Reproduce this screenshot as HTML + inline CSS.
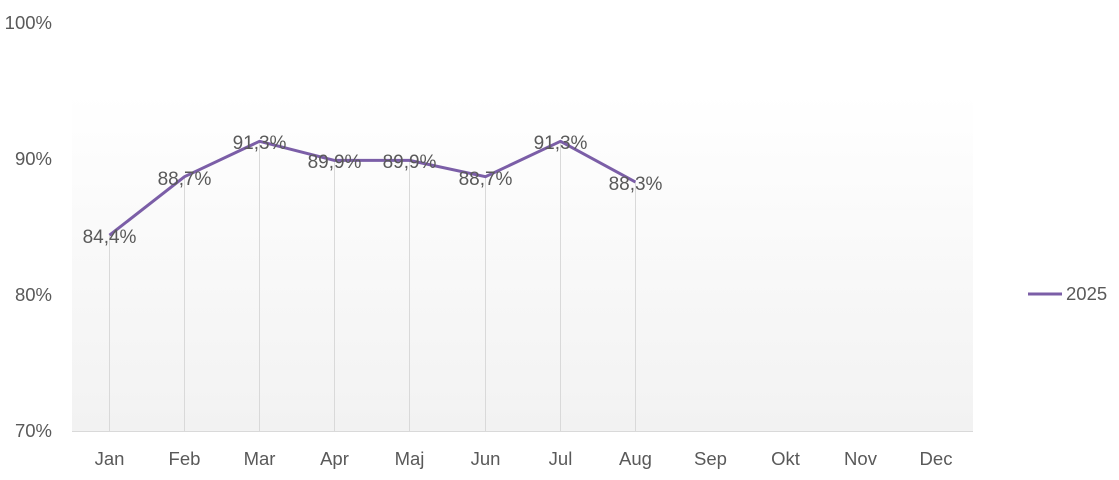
<!DOCTYPE html>
<html><head><meta charset="utf-8"><style>
html,body{margin:0;padding:0;background:#fff;}
svg{display:block;font-family:"Liberation Sans",sans-serif;}
</style></head><body>
<svg width="1119" height="480" viewBox="0 0 1119 480">
<defs><linearGradient id="g" x1="0" y1="0" x2="0" y2="1"><stop offset="0" stop-color="#ffffff"/><stop offset="1" stop-color="#f2f2f2"/></linearGradient></defs>
<rect x="72" y="93" width="901" height="338" fill="url(#g)"/>
<line x1="72" y1="431.5" x2="973" y2="431.5" stroke="#d9d9d9" stroke-width="1"/>
<g fill="#595959" font-size="18.5" text-anchor="end">
<text x="52" y="29">100%</text>
<text x="52" y="165">90%</text>
<text x="52" y="301">80%</text>
<text x="52" y="437">70%</text>
</g>
<g stroke="#d9d9d9" stroke-width="1">
<line x1="109.5" y1="235" x2="109.5" y2="431"/>
<line x1="184.5" y1="177" x2="184.5" y2="431"/>
<line x1="259.5" y1="141" x2="259.5" y2="431"/>
<line x1="334.5" y1="160" x2="334.5" y2="431"/>
<line x1="409.5" y1="160" x2="409.5" y2="431"/>
<line x1="485.5" y1="177" x2="485.5" y2="431"/>
<line x1="560.5" y1="141" x2="560.5" y2="431"/>
<line x1="635.5" y1="182" x2="635.5" y2="431"/>
</g>
<polyline fill="none" stroke="#7b5ea7" stroke-width="3" stroke-linejoin="round" points="109.5,235.2 184.5,176.7 259.5,141.3 334.5,160.4 409.5,160.4 485.5,176.7 560.5,141.3 635.5,182"/>
<g fill="#595959" font-size="19" text-anchor="middle">
<text x="109.5" y="243">84,4%</text>
<text x="184.5" y="185">88,7%</text>
<text x="259.5" y="149">91,3%</text>
<text x="334.5" y="168">89,9%</text>
<text x="409.5" y="168">89,9%</text>
<text x="485.5" y="185">88,7%</text>
<text x="560.5" y="149">91,3%</text>
<text x="635.5" y="190">88,3%</text>
</g>
<g fill="#595959" font-size="18.5" text-anchor="middle">
<text x="109.5" y="465">Jan</text><text x="184.5" y="465">Feb</text><text x="259.5" y="465">Mar</text><text x="334.5" y="465">Apr</text><text x="409.5" y="465">Maj</text><text x="485.5" y="465">Jun</text><text x="560.5" y="465">Jul</text><text x="635.5" y="465">Aug</text><text x="710.5" y="465">Sep</text><text x="785.5" y="465">Okt</text><text x="860.5" y="465">Nov</text><text x="936" y="465">Dec</text>
</g>
<line x1="1028" y1="294" x2="1062" y2="294" stroke="#7b5ea7" stroke-width="3"/>
<text x="1066" y="300" fill="#595959" font-size="18.5">2025</text>
</svg>
</body></html>
